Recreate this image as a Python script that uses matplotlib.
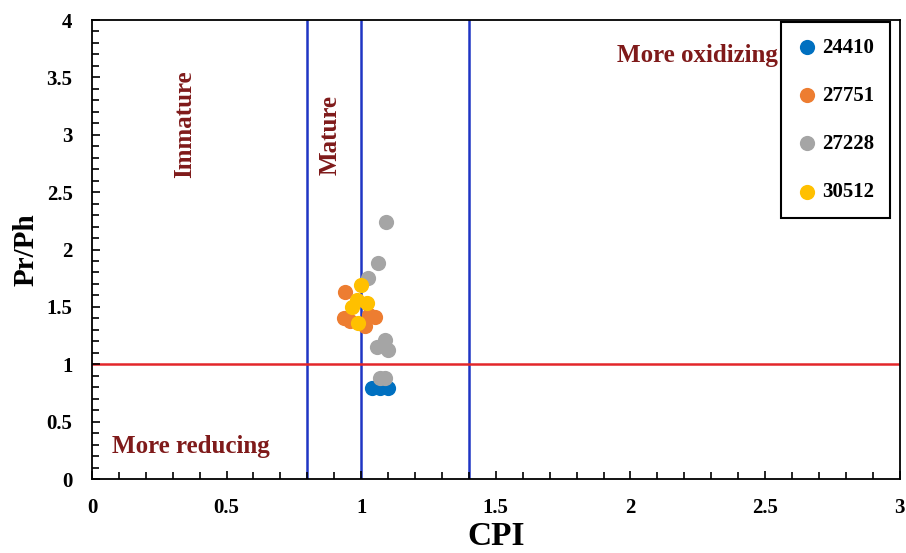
import matplotlib
matplotlib.use("Agg")
import matplotlib.pyplot as plt
from matplotlib.ticker import MultipleLocator

plt.rcParams['font.family'] = ['Liberation Serif', 'DejaVu Serif']
plt.rcParams['font.weight'] = 'bold'

# CPI / Pr/Ph values per well
cpi_24410 = [1.04, 1.07, 1.10]
prph_24410 = [0.79, 0.79, 0.79]

cpi_27751 = [0.94, 0.935, 1.05, 1.015, 1.03, 0.96]
prph_27751 = [1.63, 1.40, 1.41, 1.33, 1.43, 1.38]

cpi_27228 = [1.093, 1.063, 1.026, 1.06, 1.09, 1.10, 1.07, 1.09]
prph_27228 = [2.24, 1.88, 1.75, 1.15, 1.21, 1.12, 0.88, 0.88]

cpi_30512 = [1.0, 0.985, 1.02, 0.966, 0.99]
prph_30512 = [1.69, 1.56, 1.53, 1.50, 1.36]

series = [
    ("24410", cpi_24410, prph_24410, "#0070C0"),
    ("27751", cpi_27751, prph_27751, "#ED7D31"),
    ("27228", cpi_27228, prph_27228, "#A5A5A5"),
    ("30512", cpi_30512, prph_30512, "#FFC000"),
]

cpi_limits = [0.8, 1.0, 1.4]
prph_limit = 1.0

fig = plt.figure(figsize=(9.06, 5.53), dpi=100)
ax = fig.add_axes([0.1015, 0.1338, 0.8915, 0.830])

for xv in cpi_limits:
    ax.axvline(xv, color="#1f35c4", lw=1.8, zorder=1)
ax.axhline(prph_limit, color="#e3262a", lw=1.8, zorder=1)

for name, x, y, c in series:
    ax.scatter(x, y, s=120, color=c, label=name, zorder=3, linewidths=0)

ax.set_xlim(0, 3)
ax.set_ylim(0, 4)
ax.xaxis.set_major_locator(MultipleLocator(0.5))
ax.xaxis.set_minor_locator(MultipleLocator(0.1))
ax.yaxis.set_major_locator(MultipleLocator(0.5))
ax.yaxis.set_minor_locator(MultipleLocator(0.1))
ax.tick_params(which="both", direction="in", top=False, right=False, labelsize=15, width=1.2)
ax.tick_params(which="major", length=6, pad=14)
ax.tick_params(which="minor", length=5)
for sp in ax.spines.values():
    sp.set_linewidth(1.3)
ax.xaxis.set_major_formatter(plt.FuncFormatter(lambda v, p: f"{v:g}"))
ax.yaxis.set_major_formatter(plt.FuncFormatter(lambda v, p: f"{v:g}"))

ax.set_xlabel("CPI", fontsize=24, fontweight="bold", labelpad=2)
ax.set_ylabel("Pr/Ph", fontsize=21, fontweight="bold", labelpad=5)

tc = "#7f1a1a"
ax.text(0.346, 3.09, "Immature", rotation=90, color=tc, fontsize=18, ha="center", va="center")
ax.text(0.885, 3.0, "Mature", rotation=90, color=tc, fontsize=18, ha="center", va="center")
ax.text(2.25, 3.695, "More oxidizing", color=tc, fontsize=18, ha="center", va="center")
ax.text(0.368, 0.28, "More reducing", color=tc, fontsize=18, ha="center", va="center")

leg = ax.legend(loc="upper right", bbox_to_anchor=(0.9876, 0.9956), borderaxespad=0,
                fontsize=15, labelspacing=1.35, handletextpad=0.2, handlelength=1.0,
                borderpad=0.75, fancybox=False, framealpha=1, edgecolor="black")
leg.get_frame().set_linewidth(1.5)

fig.savefig("out.png", dpi=100)
